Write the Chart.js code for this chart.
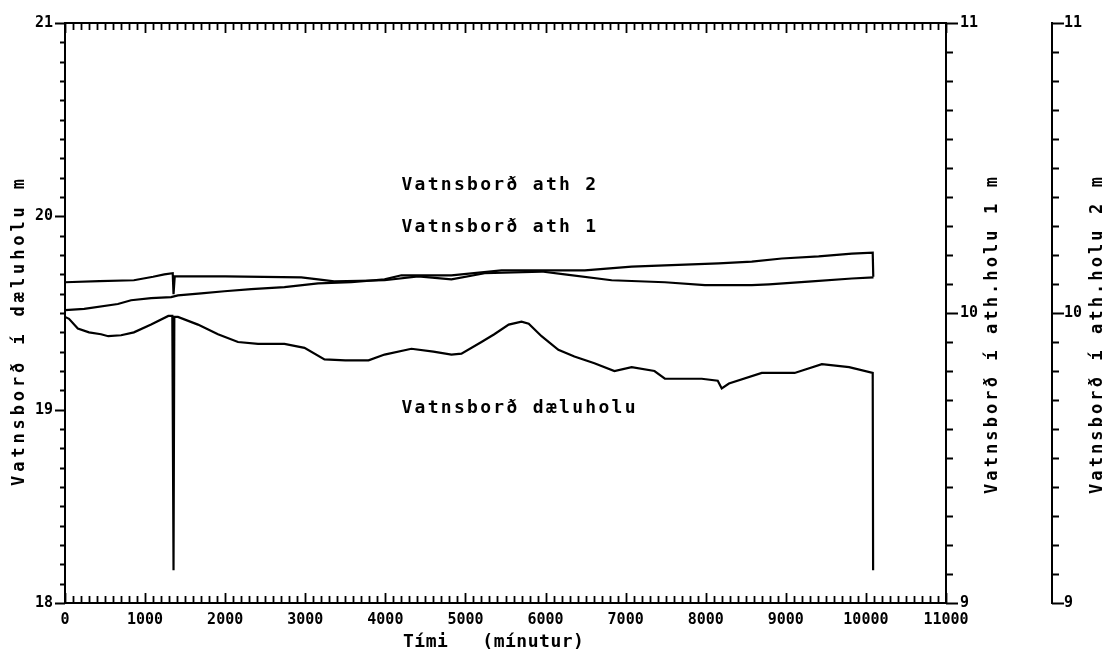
<!DOCTYPE html>
<html>
<head>
<meta charset="utf-8">
<script src="https://cdn.jsdelivr.net/npm/chart.js@4/dist/chart.umd.min.js"></script>
<style>
html,body{margin:0;padding:0;background:#fff;}
#wrap{width:1110px;height:658px;position:relative;}
</style>
</head>
<body>
<div id="wrap"><canvas id="c" width="1110" height="658"></canvas></div>
<script>
// ---- Data ----
// Time in minutes
const pumpTime  = [0,50,160,300,450,540,700,860,1075,1290,1340,1355,1365,1410,1660,1910,2160,2410,2740,2990,3240,3500,3790,3990,4325,4600,4825,4950,5200,5360,5540,5700,5790,5950,6160,6360,6610,6860,7075,7360,7490,7700,7950,8150,8200,8290,8700,9110,9450,9790,10085,10090];
// Vatnsborð í dæluholu (m), left axis
const pumpLevel = [19.48,19.47,19.42,19.40,19.39,19.38,19.385,19.40,19.44,19.485,19.485,18.17,19.48,19.48,19.44,19.39,19.35,19.34,19.34,19.32,19.26,19.255,19.255,19.285,19.315,19.30,19.285,19.29,19.35,19.39,19.44,19.455,19.445,19.38,19.31,19.275,19.24,19.20,19.22,19.20,19.16,19.16,19.16,19.15,19.11,19.135,19.19,19.19,19.235,19.22,19.19,18.17];

// Vatnsborð í ath.holu 1 (m), right axis 1
const obs1Time  = [0,430,860,1100,1240,1345,1355,1370,2000,2950,3160,3360,3990,4410,4825,5240,5950,6240,6825,7490,7990,8575,8790,9325,9825,10095];
const obs1Level = [10.106,10.11,10.113,10.125,10.133,10.137,10.065,10.126,10.126,10.123,10.116,10.109,10.113,10.126,10.116,10.137,10.143,10.133,10.113,10.106,10.096,10.096,10.099,10.109,10.119,10.123];

// Vatnsborð í ath.holu 2 (m), right axis 2
const obs2Time  = [0,240,660,825,1075,1325,1410,1700,1990,2325,2740,3160,3575,3990,4200,4825,5450,5825,6490,7075,7490,8160,8575,8950,9410,9825,10085,10092];
const obs2Level = [10.010,10.014,10.031,10.044,10.051,10.055,10.061,10.068,10.075,10.082,10.089,10.102,10.106,10.116,10.13,10.13,10.147,10.147,10.147,10.160,10.164,10.171,10.177,10.188,10.195,10.205,10.208,10.125];

// Axis ranges / tick labels
const xRange = [0, 11000];
const xLabelStep = 1000;
const xMinorStep = 100;
const pumpRange = [18, 21];
const obsRange = [9, 11];
const yMinorStep = 0.1;

// Text
const xTitle = 'Tími   (mínutur)';
const pumpTitle = 'Vatnsborð í dæluholu m';
const obs1Title = 'Vatnsborð í ath.holu 1 m';
const obs2Title = 'Vatnsborð í ath.holu 2 m';
const seriesNames = ['Vatnsborð ath 2', 'Vatnsborð ath 1', 'Vatnsborð dæluholu'];
// label anchor (time, pump-axis level) for each series name
const nameAnchorTime = [4200, 4200, 4200];
const nameAnchorLevel = [20.158, 19.943, 19.008];

const pairs = (xs, ys) => xs.map((x, i) => ({x, y: ys[i]}));

const FONT = 'DejaVu Sans Mono';
Chart.defaults.font.family = FONT;
Chart.defaults.color = '#000';

const tickPlugin = {
  id: 'plotterTicks',
  afterDatasetsDraw(chart) {
    const {ctx, chartArea: a, scales} = chart;
    ctx.save();
    ctx.strokeStyle = '#000';
    // top frame line
    ctx.lineWidth = 2;
    ctx.beginPath(); ctx.moveTo(a.left - 1, a.top); ctx.lineTo(a.right + 1, a.top); ctx.stroke();
    ctx.lineWidth = 1.8;
    ctx.beginPath();
    // x ticks, top and bottom, pointing inward
    const xs = scales.x;
    const nX = Math.round((xRange[1] - xRange[0]) / xMinorStep);
    for (let i = 0; i <= nX; i++) {
      const t = xRange[0] + i * xMinorStep;
      const px = Math.round(xs.getPixelForValue(t)) + 0.5;
      const len = (i % 10 === 0) ? 10 : 7;
      ctx.moveTo(px, a.top); ctx.lineTo(px, a.top + len);
      ctx.moveTo(px, a.bottom); ctx.lineTo(px, a.bottom - len);
    }
    // left axis ticks (outward)
    const ys = scales.y;
    const nY = Math.round((pumpRange[1] - pumpRange[0]) / yMinorStep);
    for (let i = 0; i <= nY; i++) {
      const v = pumpRange[0] + i * yMinorStep;
      const py = Math.round(ys.getPixelForValue(v)) + 0.5;
      const len = (i % 10 === 0) ? 10 : 5;
      ctx.moveTo(a.left, py); ctx.lineTo(a.left - len, py);
    }
    // right axes ticks (outward)
    ['y1', 'y2'].forEach(id => {
      const s = scales[id];
      const nR = Math.round((obsRange[1] - obsRange[0]) / yMinorStep);
      for (let i = 0; i <= nR; i++) {
        const v = obsRange[0] + i * yMinorStep;
        const py = Math.round(s.getPixelForValue(v)) + 0.5;
        const len = (i % 10 === 0) ? 12 : 7;
        ctx.moveTo(s.left, py); ctx.lineTo(s.left + len, py);
      }
    });
    ctx.stroke();
    ctx.restore();
  },
  afterDraw(chart) {
    const {ctx, chartArea: a, scales} = chart;
    ctx.save();
    ctx.fillStyle = '#000';
    ctx.textBaseline = 'middle';
    ctx.textAlign = 'left';
    // series names inside the plot
    ctx.font = 'bold 18px "' + FONT + '"';
    ctx.letterSpacing = '2.3px';
    seriesNames.forEach((s, i) => {
      const px = scales.x.getPixelForValue(nameAnchorTime[i]);
      const py = scales.y.getPixelForValue(nameAnchorLevel[i]);
      ctx.fillText(s, px, py);
    });
    // x title
    ctx.letterSpacing = '0.5px';
    ctx.fillText(xTitle, a.left + 338, a.bottom + 39);
    // vertical titles (reading bottom to top)
    ctx.font = 'bold 17px "' + FONT + '"';
    const vtitle = (txt, x, yBottom, spacing) => {
      ctx.save();
      ctx.letterSpacing = spacing;
      ctx.translate(x, yBottom);
      ctx.rotate(-Math.PI / 2);
      ctx.fillText(txt, 0, 0);
      ctx.restore();
    };
    vtitle(pumpTitle, 20, 486, '3.9px');
    vtitle(obs1Title, scales.y1.left + 47, 494, '3.1px');
    vtitle(obs2Title, scales.y2.left + 46, 494, '3.1px');
    ctx.restore();
  }
};

const tickFont = {size: 15, weight: 'bold'};

new Chart(document.getElementById('c'), {
  type: 'line',
  data: {
    datasets: [
      {label: 'dæluhola', data: pairs(pumpTime, pumpLevel), yAxisID: 'y'},
      {label: 'ath 1', data: pairs(obs1Time, obs1Level), yAxisID: 'y1'},
      {label: 'ath 2', data: pairs(obs2Time, obs2Level), yAxisID: 'y2'}
    ].map(d => Object.assign(d, {borderColor: '#000', borderWidth: 2.2, pointRadius: 0, tension: 0, fill: false}))
  },
  options: {
    responsive: false,
    animation: false,
    devicePixelRatio: 1,
    layout: {padding: {top: 18, left: 0, right: 0, bottom: 0}},
    plugins: {legend: {display: false}, tooltip: {enabled: false}},
    scales: {
      x: {
        type: 'linear', position: 'bottom', min: xRange[0], max: xRange[1],
        grid: {display: false, drawTicks: false},
        border: {display: true, color: '#000', width: 2},
        ticks: {stepSize: xLabelStep, autoSkip: false, maxRotation: 0, font: tickFont, color: '#000', padding: 8,
          callback: v => String(v)},
        afterFit: s => { s.height = 55; }
      },
      y: {
        type: 'linear', position: 'left', min: pumpRange[0], max: pumpRange[1],
        grid: {display: false, drawTicks: false},
        border: {display: true, color: '#000', width: 2},
        ticks: {stepSize: 1, font: tickFont, color: '#000', padding: 12},
        afterFit: s => { s.width = 65; }
      },
      y1: {
        type: 'linear', position: 'right', min: obsRange[0], max: obsRange[1],
        grid: {display: false, drawTicks: false},
        border: {display: true, color: '#000', width: 2},
        ticks: {stepSize: 1, font: tickFont, color: '#000', padding: 14},
        afterFit: s => { s.width = 106; }
      },
      y2: {
        type: 'linear', position: 'right', min: obsRange[0], max: obsRange[1],
        grid: {display: false, drawTicks: false},
        border: {display: true, color: '#000', width: 2},
        ticks: {stepSize: 1, font: tickFont, color: '#000', padding: 12},
        afterFit: s => { s.width = 58; }
      }
    }
  },
  plugins: [tickPlugin]
});
</script>
</body>
</html>
